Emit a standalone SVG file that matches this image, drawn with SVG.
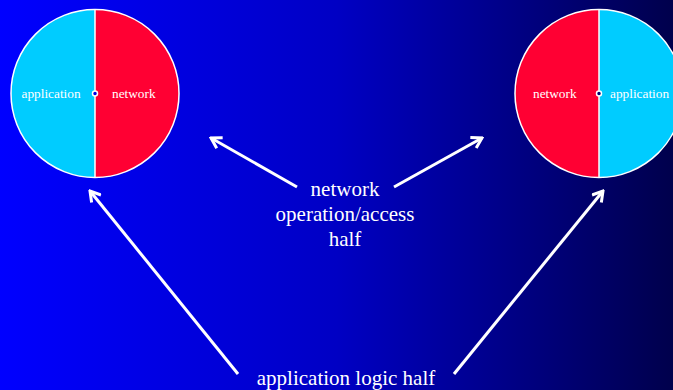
<svg xmlns="http://www.w3.org/2000/svg" width="673" height="390" viewBox="0 0 673 390">
  <defs>
    <linearGradient id="bg" x1="0" y1="0" x2="1" y2="0">
      <stop offset="0" stop-color="#0000ff"/>
      <stop offset="0.5" stop-color="#0000c4"/>
      <stop offset="1" stop-color="#00004c"/>
    </linearGradient>
    <marker id="chev" viewBox="0 0 14 14" refX="12" refY="7" markerWidth="14" markerHeight="14" markerUnits="userSpaceOnUse" orient="auto">
      <path d="M2,1 L12,7 L2,13" fill="none" stroke="#fff" stroke-width="3"/>
    </marker>
    <style>
      .half-net { fill: #ff0033; }
      .half-app { fill: #00ccff; }
      .rim { fill: none; stroke: #fff; stroke-width: 1.5; }
      .split { stroke: #fff; stroke-width: 1.5; }
      .hub { stroke: #fff; stroke-width: 1.5; }
      .small { font-family: "Liberation Serif", "Times New Roman", serif; font-size: 13.3px; fill: #fff; }
      .big { font-family: "Liberation Serif", "Times New Roman", serif; font-size: 21px; fill: #fff; text-anchor: middle; }
      .arrow { stroke: #fff; stroke-width: 3; fill: none; marker-end: url(#chev); }
    </style>
  </defs>

  <rect width="673" height="390" fill="url(#bg)"/>

  <!-- left split circle: application | network -->
  <g id="left-socket">
    <path class="half-app" d="M95,9.5 A84,84 0 0 0 95,177.5 Z"/>
    <path class="half-net" d="M95,9.5 A84,84 0 0 1 95,177.5 Z"/>
    <line class="split" x1="95" y1="9.5" x2="95" y2="177.5"/>
    <circle class="rim" cx="95" cy="93.5" r="84"/>
    <circle class="hub" cx="95" cy="93.5" r="2.5" fill="#0000e8"/>
    <text class="small" x="21.5" y="98">application</text>
    <text class="small" x="112" y="98">network</text>
  </g>

  <!-- right split circle: network | application -->
  <g id="right-socket">
    <path class="half-net" d="M599,9.5 A84,84 0 0 0 599,177.5 Z"/>
    <path class="half-app" d="M599,9.5 A84,84 0 0 1 599,177.5 Z"/>
    <line class="split" x1="599" y1="9.5" x2="599" y2="177.5"/>
    <circle class="rim" cx="599" cy="93.5" r="84"/>
    <circle class="hub" cx="599" cy="93.5" r="2.5" fill="#000070"/>
    <text class="small" x="533" y="98">network</text>
    <text class="small" x="610" y="98">application</text>
  </g>

  <g id="label-network">
    <text class="big" x="345" y="196">network</text>
    <text class="big" x="345" y="221">operation/access</text>
    <text class="big" x="345" y="246">half</text>
  </g>

  <g id="label-application">
    <text class="big" x="346" y="385">application logic half</text>
  </g>

  <g id="connectors">
    <line class="arrow" x1="297" y1="187" x2="211" y2="138"/>
    <line class="arrow" x1="394" y1="187" x2="482" y2="138"/>
    <line class="arrow" x1="238" y1="374" x2="90" y2="191"/>
    <line class="arrow" x1="454" y1="374" x2="603" y2="191"/>
  </g>
</svg>
